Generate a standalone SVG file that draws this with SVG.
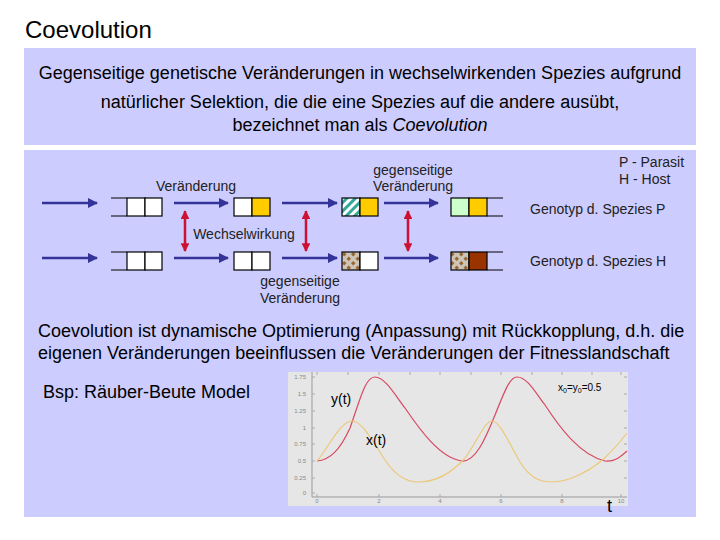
<svg xmlns="http://www.w3.org/2000/svg" width="720" height="540" viewBox="0 0 720 540">
<style>
text{font-family:"Liberation Sans",Arial,sans-serif;fill:#000}
.lbl{font-size:14px;fill:#222}
.big{font-size:18px}
.blue{stroke:#333399;stroke-width:2.5;fill:none}
.red{stroke:#cc1133;stroke-width:2.5;fill:none}
.cell{stroke:#000;stroke-width:1.2}
.open{stroke:#000;stroke-width:1.2;fill:none}
.tick{font-size:6px;fill:#888}
</style>
<defs>
<marker id="ab" viewBox="0 0 10 10" refX="9" refY="5" markerWidth="4" markerHeight="4" orient="auto"><path d="M0,0L10,5L0,10z" fill="#333399"/></marker>
<marker id="ar" viewBox="0 0 10 10" refX="9" refY="5" markerWidth="3.5" markerHeight="3.5" orient="auto-start-reverse"><path d="M0,0L10,5L0,10z" fill="#cc1133"/></marker>
<pattern id="hatch" width="6" height="6" patternUnits="userSpaceOnUse" patternTransform="rotate(45)"><rect width="6" height="6" fill="#ffffff"/><rect width="3" height="6" fill="#33aa99"/></pattern>
<pattern id="dia" x="0" y="0" width="9" height="9" patternUnits="userSpaceOnUse"><rect width="9" height="9" fill="#cdc5b8"/><path d="M2.25,0L4.5,2.25L2.25,4.5L0,2.25z M6.75,4.5L9,6.75L6.75,9L4.5,6.75z" fill="#996633"/></pattern>
</defs>
<rect width="720" height="540" fill="#ffffff"/>
<text x="25" y="38" style="font-size:24px">Coevolution</text>
<rect x="24" y="48" width="672" height="97" fill="#ccccff"/>
<rect x="24" y="150" width="672" height="367" fill="#ccccff"/>
<g id="intro" text-anchor="middle">
<text x="360" y="79" class="big">Gegenseitige genetische Veränderungen in wechselwirkenden Spezies aufgrund</text>
<text x="360" y="108" class="big">natürlicher Selektion, die die eine Spezies auf die andere ausübt,</text>
<text x="360" y="131" class="big">bezeichnet man als <tspan font-style="italic">Coevolution</tspan></text>
</g>
<g id="labels">
<text x="196" y="191" class="lbl" text-anchor="middle">Veränderung</text>
<text x="413" y="175" class="lbl" text-anchor="middle">gegenseitige</text>
<text x="413" y="191" class="lbl" text-anchor="middle">Veränderung</text>
<text x="244" y="239" class="lbl" text-anchor="middle">Wechselwirkung</text>
<text x="300" y="286" class="lbl" text-anchor="middle">gegenseitige</text>
<text x="300" y="303" class="lbl" text-anchor="middle">Veränderung</text>
<text x="619" y="167" class="lbl">P - Parasit</text>
<text x="619" y="184" class="lbl">H - Host</text>
<text x="530" y="214" class="lbl">Genotyp d. Spezies P</text>
<text x="530" y="266" class="lbl">Genotyp d. Spezies H</text>
</g>
<g id="connectors">
<line class="blue" x1="42" y1="203" x2="97" y2="203" marker-end="url(#ab)"/>
<line class="blue" x1="174" y1="203" x2="228" y2="203" marker-end="url(#ab)"/>
<line class="blue" x1="282" y1="203" x2="337" y2="203" marker-end="url(#ab)"/>
<line class="blue" x1="384" y1="203" x2="438" y2="203" marker-end="url(#ab)"/>
<line class="blue" x1="42" y1="258" x2="97" y2="258" marker-end="url(#ab)"/>
<line class="blue" x1="174" y1="258" x2="228" y2="258" marker-end="url(#ab)"/>
<line class="blue" x1="282" y1="258" x2="337" y2="258" marker-end="url(#ab)"/>
<line class="blue" x1="384" y1="258" x2="438" y2="258" marker-end="url(#ab)"/>
<line class="red" x1="185" y1="211" x2="185" y2="251" marker-start="url(#ar)" marker-end="url(#ar)"/>
<line class="red" x1="306" y1="211" x2="306" y2="251" marker-start="url(#ar)" marker-end="url(#ar)"/>
<line class="red" x1="408" y1="211" x2="408" y2="251" marker-start="url(#ar)" marker-end="url(#ar)"/>
</g>
<g id="genotypeP0">
<path class="open" d="M111,198H127M111,216H127"/>
<rect class="cell" x="127" y="198" width="18" height="18" fill="#fff"/>
<rect class="cell" x="145" y="198" width="17" height="18" fill="#fff"/>
</g>
<g id="genotypeP1">
<rect class="cell" x="234" y="198" width="18" height="18" fill="#fff"/>
<rect class="cell" x="252" y="198" width="18" height="18" fill="#ffcc00"/>
</g>
<g id="genotypeP2">
<rect class="cell" x="342" y="198" width="18" height="18" fill="url(#hatch)"/>
<rect class="cell" x="360" y="198" width="18" height="18" fill="#ffcc00"/>
</g>
<g id="genotypeP3">
<rect class="cell" x="451" y="198" width="18" height="18" fill="#ccffcc"/>
<rect class="cell" x="469" y="198" width="18" height="18" fill="#ffcc00"/>
<path class="open" d="M487,198H503M487,216H503"/>
</g>
<g id="genotypeH0">
<path class="open" d="M111,252H127M111,270H127"/>
<rect class="cell" x="127" y="252" width="18" height="18" fill="#fff"/>
<rect class="cell" x="145" y="252" width="17" height="18" fill="#fff"/>
</g>
<g id="genotypeH1">
<rect class="cell" x="234" y="252" width="18" height="18" fill="#fff"/>
<rect class="cell" x="252" y="252" width="18" height="18" fill="#fff"/>
</g>
<g id="genotypeH2">
<rect class="cell" x="342" y="252" width="18" height="18" fill="url(#dia)"/>
<rect class="cell" x="360" y="252" width="18" height="18" fill="#fff"/>
</g>
<g id="genotypeH3">
<rect class="cell" x="451" y="252" width="18" height="18" fill="url(#dia)"/>
<rect class="cell" x="469" y="252" width="18" height="18" fill="#993300"/>
<path class="open" d="M487,252H503M487,270H503"/>
</g>
<g id="summary">
<text x="38" y="337" style="font-size:18px">Coevolution ist dynamische Optimierung (Anpassung) mit Rückkopplung, d.h. die</text>
<text x="38" y="359" style="font-size:18px">eigenen Veränderungen beeinflussen die Veränderungen der Fitnesslandschaft</text>
<text x="43" y="398" style="font-size:18px">Bsp: Räuber-Beute Model</text>
</g>
<g id="plot">
<rect x="288" y="372" width="340" height="134" fill="#e6e6e6"/>
<path d="M312,372V497H627" fill="none" stroke="#999" stroke-width="1"/>
<g stroke="#aaa" stroke-width="1">
<path d="M317,497v-3M379,497v-3M440,497v-3M501,497v-3M562,497v-3M621,497v-3"/>
<path d="M317,372v3M348,372v3M379,372v3M410,372v3M440,372v3M471,372v3M501,372v3M532,372v3M562,372v3M592,372v3M621,372v3"/>
<path d="M312,377h3M312,394h3M312,411h3M312,428h3M312,444h3M312,461h3M312,478h3M312,493h3"/>
<path d="M627,377h-3M627,394h-3M627,411h-3M627,428h-3M627,444h-3M627,461h-3M627,478h-3"/>
</g>
<g class="tick" text-anchor="end">
<text x="306" y="379" class="tick">1.75</text>
<text x="306" y="396" class="tick">1.5</text>
<text x="306" y="413" class="tick">1.25</text>
<text x="306" y="430" class="tick">1</text>
<text x="306" y="446" class="tick">0.75</text>
<text x="306" y="463" class="tick">0.5</text>
<text x="306" y="480" class="tick">0.25</text>
<text x="306" y="495" class="tick">0</text>
</g>
<g class="tick" text-anchor="middle">
<text x="317" y="503" class="tick">0</text>
<text x="379" y="503" class="tick">2</text>
<text x="440" y="503" class="tick">4</text>
<text x="501" y="503" class="tick">6</text>
<text x="562" y="503" class="tick">8</text>
<text x="621" y="503" class="tick">10</text>
</g>
<path d="M317,461 C330,460 340,450 350,428 C360,400 365,377 375,377 C385,377 395,395 405,408 C420,430 440,458 462,461 C475,462 485,440 495,415 C505,390 510,377 517,377 C527,377 535,392 545,405 C560,428 580,455 605,461 C615,462 620,457 627,451" fill="none" stroke="#d84860" stroke-width="1.2"/>
<path d="M317,461 C327,450 340,421 352,421 C362,421 372,440 385,460 C395,475 405,482 418,482 C435,482 450,475 465,458 C478,440 485,421 492,421 C500,421 510,445 520,462 C530,478 540,482 552,482 C570,482 590,470 600,462 C612,452 620,442 627,433" fill="none" stroke="#ecc878" stroke-width="1.2"/>
<text x="331" y="404" style="font-size:14px">y(t)</text>
<text x="366" y="445" style="font-size:14px">x(t)</text>
<text x="558" y="391" style="font-size:10px">x<tspan dy="2" style="font-size:7px">0</tspan><tspan dy="-2">=y</tspan><tspan dy="2" style="font-size:7px">0</tspan><tspan dy="-2">=0.5</tspan></text>
<text x="607" y="512" style="font-size:18px">t</text>
</g>
</svg>
